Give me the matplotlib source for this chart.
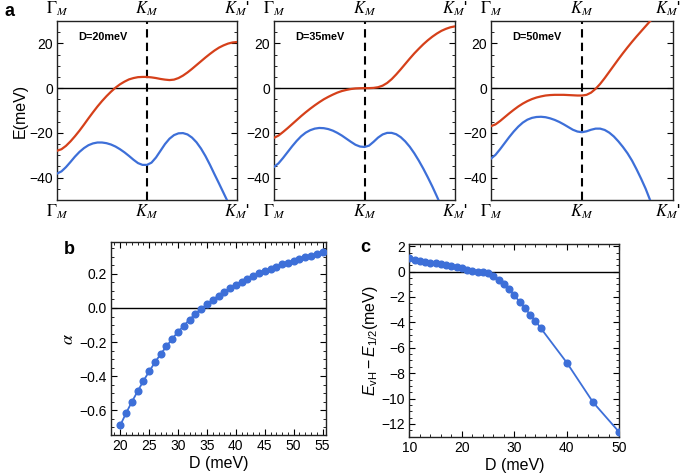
import matplotlib
matplotlib.use("Agg")
import matplotlib.pyplot as plt
import matplotlib.transforms as mtransforms
from matplotlib.ticker import MultipleLocator

plt.rcParams['font.family'] = ['Liberation Sans', 'DejaVu Sans']
plt.rcParams['mathtext.fontset'] = 'custom'
plt.rcParams['mathtext.rm'] = 'Liberation Sans'
plt.rcParams['mathtext.it'] = 'Liberation Sans:italic'

# --- panel a: bands along Gamma_M -> K_M -> K_M' (K_M at 1, K_M' at 2)
k_path = [i * 0.05 for i in range(41)]
k_labels = [r'$\Gamma_M$', r'$K_M$', r"$K_M$'"]
d_values = ['D=20meV', 'D=35meV', 'D=50meV']

cond_20 = [-28, -27.3, -25.8, -23.8, -21.5, -19, -16.3, -13.5, -10.8, -8.2,
           -5.8, -3.6, -1.6, 0.2, 1.7, 2.9, 3.9, 4.5, 4.9, 5.0,
           5.0, 4.8, 4.5, 4.1, 3.8, 3.6, 3.8, 4.5, 5.6, 7.0,
           8.6, 10.3, 12.0, 13.7, 15.3, 16.8, 18.1, 19.1, 19.9, 20.4, 20.6]
val_20 = [-38.2, -37.2, -35.3, -33, -30.6, -28.5, -26.8, -25.5, -24.7, -24.3,
          -24.3, -24.6, -25.2, -26.1, -27.3, -28.7, -30.3, -32, -33.5, -34.3,
          -34.3, -33.3, -31.0, -28, -25, -22.6, -21, -20.2, -20.1, -20.7,
          -22.1, -24.2, -27, -30.4, -34.3, -38.5, -42.6, -46.8, -51, -55.5, -60]
cond_35 = [-22.2, -21.2, -19.6, -17.9, -16.1, -14.3, -12.5, -10.8, -9.2, -7.7,
           -6.3, -5.0, -3.9, -2.9, -2.0, -1.3, -0.8, -0.4, -0.15, -0.05,
           0, 0, 0.1, 0.4, 1.1, 2.3, 4.0, 6.1, 8.4, 10.8,
           13.2, 15.5, 17.6, 19.6, 21.4, 23.0, 24.4, 25.6, 26.5, 27.2, 27.6]
val_35 = [-35.2, -33.6, -31.2, -28.6, -26.0, -23.6, -21.5, -19.9, -18.8, -18.1,
          -17.8, -17.9, -18.3, -19.0, -20.0, -21.2, -22.6, -24.0, -25.3, -26.1,
          -26.3, -25.7, -24.0, -22.1, -20.7, -20.0, -20.0, -20.6, -21.9, -23.8,
          -26.2, -29.1, -32.4, -36.0, -39.9, -44.0, -48.4, -53, -57.7, -62.5, -67.5]
cond_50 = [-17, -16.2, -14.7, -13.0, -11.3, -9.7, -8.2, -6.9, -5.8, -4.9,
           -4.2, -3.7, -3.3, -3.1, -3.0, -3.0, -3.0, -3.1, -3.2, -3.3,
           -3.3, -3.0, -2.0, -0.3, 1.9, 4.5, 7.3, 10.1, 12.9, 15.6,
           18.2, 20.7, 23.1, 25.4, 27.7, 30.0, 32.2, 34.3, 36.3, 38.2, 40]
val_50 = [-31.5, -29.8, -27.3, -24.6, -21.9, -19.4, -17.2, -15.4, -14.1, -13.3,
          -12.9, -12.8, -13.0, -13.5, -14.2, -15.1, -16.2, -17.4, -18.6, -19.4,
          -19.7, -19.3, -18.6, -18.1, -18.1, -18.7, -19.9, -21.6, -23.8, -26.3,
          -29.1, -32.4, -36.3, -40.5, -45, -50.2, -55.5, -60.8, -66, -71, -76]

# --- panel b: alpha vs D
d_b = list(range(20, 56))
alpha = [-0.688, -0.617, -0.551, -0.489, -0.428, -0.372, -0.319, -0.27, -0.225, -0.18,
         -0.14, -0.104, -0.068, -0.035, -0.005, 0.022, 0.048, 0.072, 0.095, 0.116,
         0.136, 0.155, 0.172, 0.188, 0.203, 0.217, 0.23, 0.243, 0.255, 0.266,
         0.277, 0.287, 0.297, 0.306, 0.315, 0.328]

# --- panel c: E_vH - E_1/2 vs D
d_c = list(range(10, 36)) + [40, 45, 50]
e_diff = [1.05, 0.93, 0.85, 0.78, 0.71, 0.64, 0.58, 0.51, 0.45, 0.38,
          0.28, 0.16, 0.05, -0.04, -0.07, -0.13, -0.37, -0.7, -0.97, -1.37,
          -1.88, -2.36, -2.88, -3.38, -3.86, -4.43, -7.17, -10.29, -12.65]

red = '#d5401a'
blue = '#3d6fd8'
frame_col = '#222222'

fig = plt.figure(figsize=(6.84, 4.76), dpi=100)


def style_frame(ax):
    for s in ax.spines.values():
        s.set_linewidth(1.0)
        s.set_color(frame_col)


band_sets = [(cond_20, val_20), (cond_35, val_35), (cond_50, val_50)]
lefts = [0.0833, 0.4006, 0.7178]
widths = [0.2632, 0.2646, 0.2661]
for i, (cond, val) in enumerate(band_sets):
    ax = fig.add_axes([lefts[i], 0.5798, widths[i], 0.3761])
    ax.plot(k_path, val, color=blue, lw=1.6, zorder=3)
    ax.plot(k_path, cond, color=red, lw=1.6, zorder=3)
    ax.axhline(0, color='black', lw=1.0, zorder=2)
    ax.axvline(1.0, color='black', lw=1.5, ls=(0, (4, 2.5)), zorder=2)
    ax.set_xlim(0, 2)
    ax.set_ylim(-50, 30)
    ax.set_yticks([-40, -20, 0, 20])
    ax.yaxis.set_minor_locator(MultipleLocator(5))
    ax.tick_params(axis='y', which='both', direction='in', left=True, right=True,
                   labelsize=10, pad=3)
    ax.tick_params(axis='y', which='major', length=4, width=0.8)
    ax.tick_params(axis='y', which='minor', length=2, width=0.6)
    ax.set_xticks([0, 1, 2])
    ax.set_xticklabels(k_labels, fontsize=12)
    ax.tick_params(axis='x', which='both', length=0, top=True, labeltop=True, pad=2)
    for tick in ax.xaxis.get_major_ticks():
        for lab in (tick.label1, tick.label2):
            lab.set_math_fontfamily('stix')
    if i == 2:
        # keep the K_M' labels inside the figure
        shift = mtransforms.ScaledTranslation(-4 / 72, 0, fig.dpi_scale_trans)
        last = ax.xaxis.get_major_ticks()[2]
        for lab in (last.label1, last.label2):
            lab.set_transform(lab.get_transform() + shift)
    ax.text(0.117, 0.91, d_values[i], transform=ax.transAxes, fontsize=7.8,
            fontweight='bold', va='center', ha='left')
    style_frame(ax)
    if i == 0:
        ax.set_ylabel('E(meV)', fontsize=11.5, labelpad=1)

fig.text(0.006, 0.975, 'a', fontsize=13, fontweight='bold', va='center')

# panel b
axb = fig.add_axes([0.1623, 0.0861, 0.3143, 0.4048])
axb.axhline(0, color='black', lw=1.0, zorder=2)
axb.plot(d_b, alpha, color=blue, lw=1.3, marker='o', ms=4.8, mec=blue, mfc=blue, zorder=3)
axb.set_xlim(18.4, 55.6)
axb.set_ylim(-0.745, 0.385)
axb.set_xticks([20, 25, 30, 35, 40, 45, 50, 55])
axb.set_yticks([-0.6, -0.4, -0.2, 0.0, 0.2])
axb.set_yticklabels(['\u22120.6', '\u22120.4', '\u22120.2', '0.0', '0.2'])
axb.xaxis.set_minor_locator(MultipleLocator(1))
axb.yaxis.set_minor_locator(MultipleLocator(0.05))
axb.tick_params(which='both', direction='in', top=True, right=True, labelsize=10, pad=3)
axb.tick_params(which='major', length=4, width=0.8)
axb.tick_params(which='minor', length=2, width=0.6)
axb.set_xlabel('D (meV)', fontsize=11.5, labelpad=2)
axb.set_ylabel(r'$\alpha$', fontsize=13, labelpad=2, math_fontfamily='stix')
style_frame(axb)
fig.text(0.093, 0.475, 'b', fontsize=13, fontweight='bold', va='center')

# panel c
axc = fig.add_axes([0.5984, 0.0826, 0.307, 0.4042])
axc.axhline(0, color='black', lw=1.0, zorder=2)
axc.plot(d_c, e_diff, color=blue, lw=1.3, marker='o', ms=4.8, mec=blue, mfc=blue,
         zorder=3)
axc.set_xlim(10, 50)
axc.set_ylim(-13, 2.15)
axc.set_xticks([10, 20, 30, 40, 50])
axc.set_yticks([-12, -10, -8, -6, -4, -2, 0, 2])
axc.xaxis.set_minor_locator(MultipleLocator(2))
axc.yaxis.set_minor_locator(MultipleLocator(0.5))
axc.tick_params(which='both', direction='in', top=True, right=True, labelsize=10, pad=3)
axc.tick_params(which='major', length=4, width=0.8)
axc.tick_params(which='minor', length=2, width=0.6)
axc.set_xlabel('D (meV)', fontsize=11.5, labelpad=2)
axc.set_ylabel(r'$E_{\mathrm{vH}} - E_{1/2}$(meV)', fontsize=11.5, labelpad=1)
style_frame(axc)
fig.text(0.527, 0.479, 'c', fontsize=13, fontweight='bold', va='center')

fig.savefig('out.png', dpi=100)
